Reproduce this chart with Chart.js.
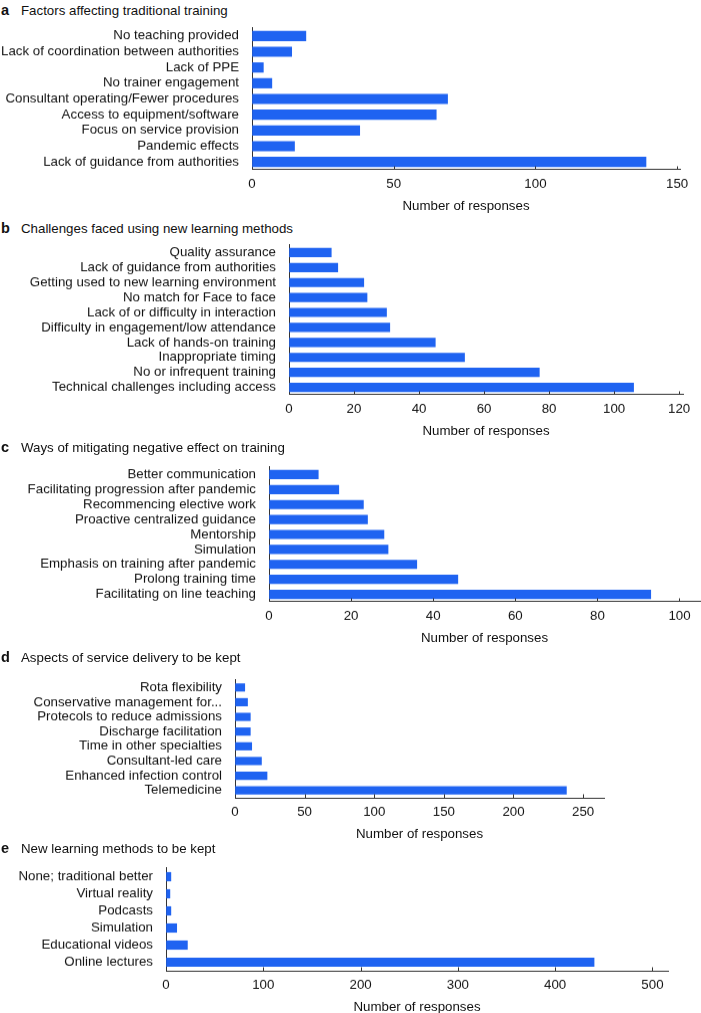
<!DOCTYPE html>
<html>
<head>
<meta charset="utf-8">
<script src="https://cdn.jsdelivr.net/npm/chart.js@4.4.0/dist/chart.umd.min.js"></script>
<style>
  html, body { margin: 0; padding: 0; background: #fff; width: 701px; height: 1013px; overflow: hidden; }
  body { position: relative; font-family: "Liberation Sans", Arial, sans-serif; color: #111; }
  .ttl { position: absolute; left: 1px; font-size: 13.3px; line-height: 14px; white-space: nowrap; }
  .ttl b { display: inline-block; width: 20px; font-size: 14.5px; }
  canvas { position: absolute; left: 0; }
</style>
</head>
<body>
<script>
// ---------- DATA ----------
const titleA = "Factors affecting traditional training";
const labelsA = ["No teaching provided", "Lack of coordination between authorities", "Lack of PPE", "No trainer engagement", "Consultant operating/Fewer procedures", "Access to equipment/software", "Focus on service provision", "Pandemic effects", "Lack of guidance from authorities"];
const valuesA = [19, 14, 4, 7, 69, 65, 38, 15, 139];
const ticksA = [0, 50, 100, 150];

const titleB = "Challenges faced using new learning methods";
const labelsB = ["Quality assurance", "Lack of guidance from authorities", "Getting used to new learning environment", "No match for Face to face", "Lack of or difficulty in interaction", "Difficulty in engagement/low attendance", "Lack of hands-on training", "Inappropriate timing", "No or infrequent training", "Technical challenges including access"];
const valuesB = [13, 15, 23, 24, 30, 31, 45, 54, 77, 106];
const ticksB = [0, 20, 40, 60, 80, 100, 120];

const titleC = "Ways of mitigating negative effect on training";
const labelsC = ["Better communication", "Facilitating progression after pandemic", "Recommencing elective work", "Proactive centralized guidance", "Mentorship", "Simulation", "Emphasis on training after pandemic", "Prolong training time", "Facilitating on line teaching"];
const valuesC = [12, 17, 23, 24, 28, 29, 36, 46, 93];
const ticksC = [0, 20, 40, 60, 80, 100];

const titleD = "Aspects of service delivery to be kept";
const labelsD = ["Rota flexibility", "Conservative management for...", "Protecols to reduce admissions", "Discharge facilitation", "Time in other specialties", "Consultant-led care", "Enhanced infection control", "Telemedicine"];
const valuesD = [7, 9, 11, 11, 12, 19, 23, 238];
const ticksD = [0, 50, 100, 150, 200, 250];

const titleE = "New learning methods to be kept";
const labelsE = ["None; traditional better", "Virtual reality", "Podcasts", "Simulation", "Educational videos", "Online lectures"];
const valuesE = [5, 4, 5, 11, 22, 440];
const ticksE = [0, 100, 200, 300, 400, 500];

const axisTitle = "Number of responses";

// ---------- LAYOUT ----------
const BAR = '#1f63f1';
const AXIS = '#333333';
const TXT = '#111111';
const FONT = "'Liberation Sans', Arial, sans-serif";
const FS = 13.3;

const panels = [
  { letter: 'a', title: titleA, labels: labelsA, values: valuesA, ticks: ticksA, axisX: 252, axisEnd: 680, top: 28,  bottom: 170, max: 151,   bar: 9.5, titleY: 10 },
  { letter: 'b', title: titleB, labels: labelsB, values: valuesB, ticks: ticksB, axisX: 289, axisEnd: 683, top: 245, bottom: 395, max: 121.2, bar: 8.5, titleY: 228 },
  { letter: 'c', title: titleC, labels: labelsC, values: valuesC, ticks: ticksC, axisX: 269, axisEnd: 700, top: 467, bottom: 602, max: 105,   bar: 8.5, titleY: 447 },
  { letter: 'd', title: titleD, labels: labelsD, values: valuesD, ticks: ticksD, axisX: 235, axisEnd: 604, top: 680, bottom: 798, max: 265,   bar: 7.5, titleY: 657 },
  { letter: 'e', title: titleE, labels: labelsE, values: valuesE, ticks: ticksE, axisX: 166, axisEnd: 668, top: 868, bottom: 971, max: 516,   bar: 8.5, titleY: 848 }
];

const innerTicks = {
  id: 'innerTicks',
  afterDraw(chart) {
    const s = chart.scales.x, ctx = chart.ctx, y = chart.chartArea.bottom;
    ctx.save();
    ctx.strokeStyle = AXIS; ctx.lineWidth = 1;
    s.ticks.forEach(t => {
      if (t.value === 0) return;
      const x = Math.round(s.getPixelForValue(t.value)) + 0.5;
      ctx.beginPath(); ctx.moveTo(x, y); ctx.lineTo(x, y - 3.5); ctx.stroke();
    });
    ctx.restore();
  }
};

const XH = 45;

function makeChart(cv, p) {
  return new Chart(cv, {
    type: 'bar',
    data: {
      labels: p.labels,
      datasets: [{ data: p.values, backgroundColor: BAR, borderWidth: 0, barThickness: p.bar }]
    },
    plugins: [innerTicks],
    options: {
      indexAxis: 'y',
      responsive: false,
      animation: false,
      devicePixelRatio: 1,
      layout: { padding: { top: 0, right: 701 - p.axisEnd, left: 0, bottom: 0 } },
      plugins: { legend: { display: false }, tooltip: { enabled: false }, title: { display: false } },
      scales: {
        x: {
          type: 'linear', min: 0, max: p.max,
          grid: { display: true, drawOnChartArea: false, drawTicks: false },
          border: { display: true, color: AXIS, width: 1 },
          ticks: { padding: 6, color: TXT, font: { family: FONT, size: FS }, maxRotation: 0 },
          afterBuildTicks(s) { s.ticks = p.ticks.map(v => ({ value: v })); },
          title: { display: true, text: axisTitle, color: TXT, font: { family: FONT, size: FS }, padding: { top: 0, bottom: 1 } },
          afterFit(s) { s.height = XH; }
        },
        y: {
          type: 'category',
          grid: { display: true, drawOnChartArea: false, drawTicks: false },
          border: { display: true, color: AXIS, width: 1 },
          ticks: { padding: 13, color: TXT, font: { family: FONT, size: FS }, autoSkip: false },
          afterFit(s) { s.width = p.axisX; }
        }
      }
    }
  });
}

panels.forEach(p => {
  const t = document.createElement('div');
  t.className = 'ttl';
  t.style.top = (p.titleY - 7) + 'px';
  t.innerHTML = '<b>' + p.letter + '</b>' + p.title;
  document.body.appendChild(t);

  // first pass: measure how much space the library keeps above the plot area
  let h = (p.bottom - p.top) + XH;
  let cv = document.createElement('canvas');
  cv.width = 701; cv.height = h;
  cv.style.width = '701px'; cv.style.height = h + 'px';
  document.body.appendChild(cv);
  let ch = makeChart(cv, p);
  const extraTop = ch.chartArea.top;
  const plotH = ch.chartArea.bottom - ch.chartArea.top;
  const need = (p.bottom - p.top) - plotH;
  ch.destroy();
  cv.remove();

  // second pass: enlarge the canvas so the plot area lands where wanted
  h = h + need;
  cv = document.createElement('canvas');
  cv.width = 701; cv.height = h;
  cv.style.width = '701px'; cv.style.height = h + 'px';
  cv.style.top = (p.top - extraTop) + 'px';
  document.body.appendChild(cv);
  makeChart(cv, p);
});
</script>
</body>
</html>
